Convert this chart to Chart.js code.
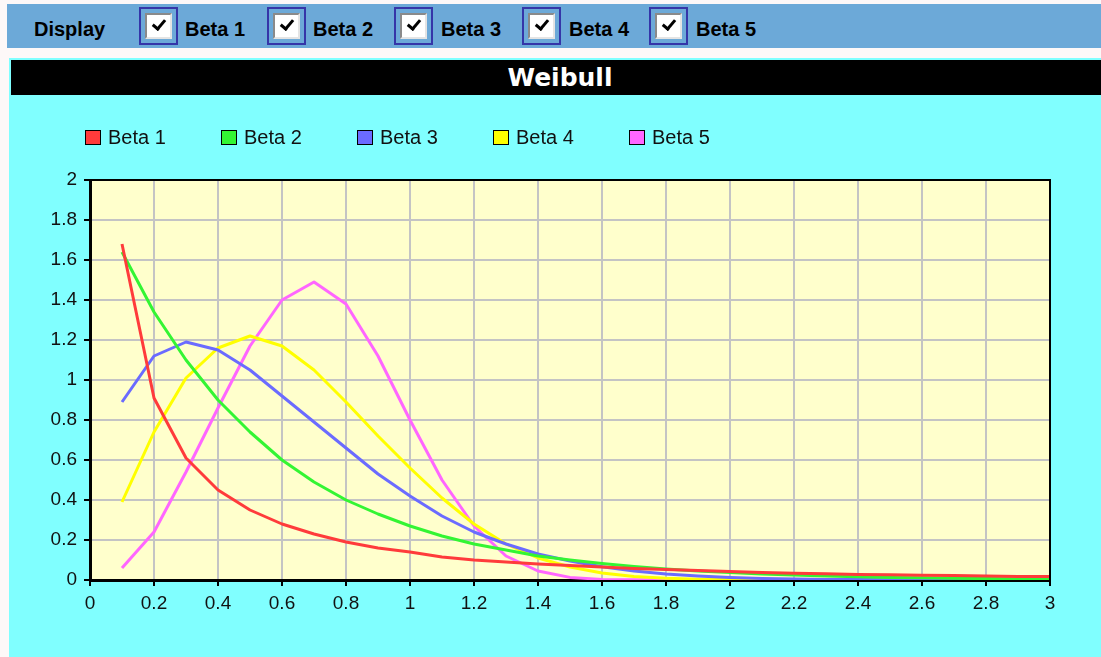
<!DOCTYPE html>
<html>
<head>
<meta charset="utf-8">
<script src="https://cdn.jsdelivr.net/npm/chart.js@4.4.0/dist/chart.umd.min.js"></script>
<style>
  html, body { margin: 0; padding: 0; background: #fdf8f8; width: 1101px; height: 657px; overflow: hidden; }
  #topbar { position: absolute; left: 7px; top: 4px; width: 1094px; height: 44px; background: #6ca9d8;
    font-family: "Liberation Sans", Arial, sans-serif; font-weight: bold; font-size: 20px; color: #000; }
  #topbar .lbl { position: absolute; top: 14px; }
  #topbar .frame { position: absolute; top: 3px; width: 35px; height: 34px; border: 2px solid #3535a8; }
  #topbar .cb { position: absolute; left: 4px; top: 4px; width: 23px; height: 22px; background: #fff;
    border-top: 2px solid #8a8a8a; border-left: 2px solid #8a8a8a; border-right: 2px solid #e4e4e4; border-bottom: 2px solid #e4e4e4; }
  #topbar .cb::after { content: ""; position: absolute; left: 8px; top: 2px; width: 5px; height: 10px;
    border-right: 3px solid #000; border-bottom: 3px solid #000; transform: rotate(40deg); }
  #panel { position: absolute; left: 9px; top: 58px; right: 0; bottom: 0; background: #80ffff; }
  #title { position: absolute; left: 2px; top: 2px; right: 0; height: 35px; background: #000; color: #fff;
    font-family: "DejaVu Sans", Verdana, sans-serif; font-weight: bold; font-size: 25px; line-height: 35px; text-align: center; padding-left: 8px; box-sizing: border-box; }
  #chartBox { position: absolute; left: 0; top: 37px; width: 1092px; height: 562px; }
</style>
</head>
<body>
<div id="topbar">
  <span class="lbl" style="left:27px">Display</span>
  <span class="frame" style="left:132px"><span class="cb"></span></span><span class="lbl" style="left:178px">Beta 1</span>
  <span class="frame" style="left:260px"><span class="cb"></span></span><span class="lbl" style="left:306px">Beta 2</span>
  <span class="frame" style="left:387px"><span class="cb"></span></span><span class="lbl" style="left:434px">Beta 3</span>
  <span class="frame" style="left:515px"><span class="cb"></span></span><span class="lbl" style="left:562px">Beta 4</span>
  <span class="frame" style="left:642px"><span class="cb"></span></span><span class="lbl" style="left:689px">Beta 5</span>
</div>
<div id="panel">
  <div id="title">Weibull</div>
  <div id="chartBox"><canvas id="weibullChart"></canvas></div>
</div>
<script>
const seriesNames = ['Beta 1', 'Beta 2', 'Beta 3', 'Beta 4', 'Beta 5'];
const xValues = [0.1, 0.2, 0.3, 0.4, 0.5, 0.6, 0.7, 0.8, 0.9, 1.0,
  1.1, 1.2, 1.3, 1.4, 1.5, 1.6, 1.7, 1.8, 1.9, 2.0,
  2.1, 2.2, 2.3, 2.4, 2.5, 2.6, 2.7, 2.8, 2.9, 3.0];
const beta1 = [1.68, 0.91, 0.61, 0.45, 0.35, 0.28, 0.23, 0.19, 0.16, 0.14,
  0.115, 0.10, 0.09, 0.08, 0.072, 0.065, 0.058, 0.052, 0.047, 0.042,
  0.038, 0.034, 0.031, 0.028, 0.026, 0.024, 0.022, 0.020, 0.018, 0.017];
const beta2 = [1.64, 1.34, 1.10, 0.90, 0.74, 0.60, 0.49, 0.40, 0.33, 0.27,
  0.22, 0.18, 0.15, 0.12, 0.10, 0.082, 0.067, 0.055, 0.045, 0.037,
  0.030, 0.025, 0.020, 0.016, 0.013, 0.011, 0.009, 0.007, 0.006, 0.005];
const beta3 = [0.89, 1.12, 1.19, 1.15, 1.05, 0.92, 0.79, 0.66, 0.53, 0.42,
  0.32, 0.24, 0.18, 0.13, 0.095, 0.066, 0.045, 0.030, 0.020, 0.013,
  0.008, 0.005, 0.003, 0.002, 0.001, 0.001, 0, 0, 0, 0];
const beta4 = [0.39, 0.74, 1.01, 1.16, 1.22, 1.17, 1.05, 0.89, 0.72, 0.56,
  0.41, 0.28, 0.18, 0.11, 0.065, 0.035, 0.018, 0.009, 0.004, 0.002,
  0.001, 0, 0, 0, 0, 0, 0, 0, 0, 0];
const beta5 = [0.06, 0.24, 0.54, 0.86, 1.17, 1.40, 1.49, 1.38, 1.12, 0.80,
  0.50, 0.27, 0.12, 0.045, 0.013, 0.003, 0.001, 0, 0, 0,
  0, 0, 0, 0, 0, 0, 0, 0, 0, 0];
const seriesValues = [beta1, beta2, beta3, beta4, beta5];
const seriesColors = ['#ff3b3b', '#33f533', '#6b6bff', '#ffff00', '#ff66ff'];

const tickFont = { family: '"Liberation Sans", Arial, sans-serif', size: 19 };
const legendFont = '20px "Liberation Sans", Arial, sans-serif';

// plot background + top/right frame
const plotFrame = {
  id: 'plotFrame',
  beforeDraw(chart) {
    const { ctx, chartArea: a } = chart;
    ctx.save();
    ctx.fillStyle = '#ffffcc';
    ctx.fillRect(a.left, a.top, a.right - a.left, a.bottom - a.top);
    ctx.restore();
  },
  afterDraw(chart) {
    const { ctx, chartArea: a } = chart;
    ctx.save();
    ctx.strokeStyle = '#000';
    ctx.lineWidth = 2;
    ctx.beginPath();
    ctx.moveTo(a.left, a.top);
    ctx.lineTo(a.right, a.top);
    ctx.lineTo(a.right, a.bottom);
    ctx.stroke();
    ctx.restore();
  }
};

// legend row with square swatches, spaced like the original
const boxLegend = {
  id: 'boxLegend',
  afterDraw(chart) {
    const ctx = chart.ctx;
    ctx.save();
    ctx.font = legendFont;
    ctx.textBaseline = 'middle';
    chart.data.datasets.forEach((ds, i) => {
      const x = 76 + i * 136;
      const y = 35;
      ctx.fillStyle = ds.borderColor;
      ctx.fillRect(x, y, 16, 15);
      ctx.strokeStyle = '#000';
      ctx.lineWidth = 1;
      ctx.strokeRect(x + 0.5, y + 0.5, 15, 14);
      ctx.fillStyle = '#111';
      ctx.fillText(ds.label, x + 23, y + 8);
    });
    ctx.restore();
  }
};

const fmt = v => String(Math.round(v * 10) / 10);

new Chart(document.getElementById('weibullChart'), {
  type: 'line',
  data: {
    datasets: seriesNames.map((name, i) => ({
      label: name,
      data: xValues.map((x, j) => ({ x, y: seriesValues[i][j] })),
      borderColor: seriesColors[i],
      backgroundColor: seriesColors[i],
      borderWidth: 3,
      pointRadius: 0,
      tension: 0,
      borderJoinStyle: 'round'
    }))
  },
  options: {
    responsive: true,
    maintainAspectRatio: false,
    animation: false,
    layout: { padding: { left: 0, top: 85, right: 51, bottom: 37 } },
    plugins: { legend: { display: false }, tooltip: { enabled: false } },
    scales: {
      x: {
        type: 'linear', min: 0, max: 3,
        ticks: { stepSize: 0.2, callback: fmt, color: '#111', font: tickFont, padding: 6, maxRotation: 0, autoSkip: false },
        grid: { color: '#c4c4c4', lineWidth: 2, tickLength: 6, tickColor: '#000', tickWidth: 2 },
        border: { color: '#000', width: 3 },
        afterFit(scale) { scale.height = 40; }
      },
      y: {
        min: 0, max: 2,
        ticks: { stepSize: 0.2, callback: fmt, color: '#111', font: tickFont, padding: 7 },
        grid: { color: '#c4c4c4', lineWidth: 2, tickLength: 6, tickColor: '#000', tickWidth: 2 },
        border: { color: '#000', width: 3 },
        afterFit(scale) { scale.width = 81; }
      }
    }
  },
  plugins: [plotFrame, boxLegend]
});
</script>
</body>
</html>
